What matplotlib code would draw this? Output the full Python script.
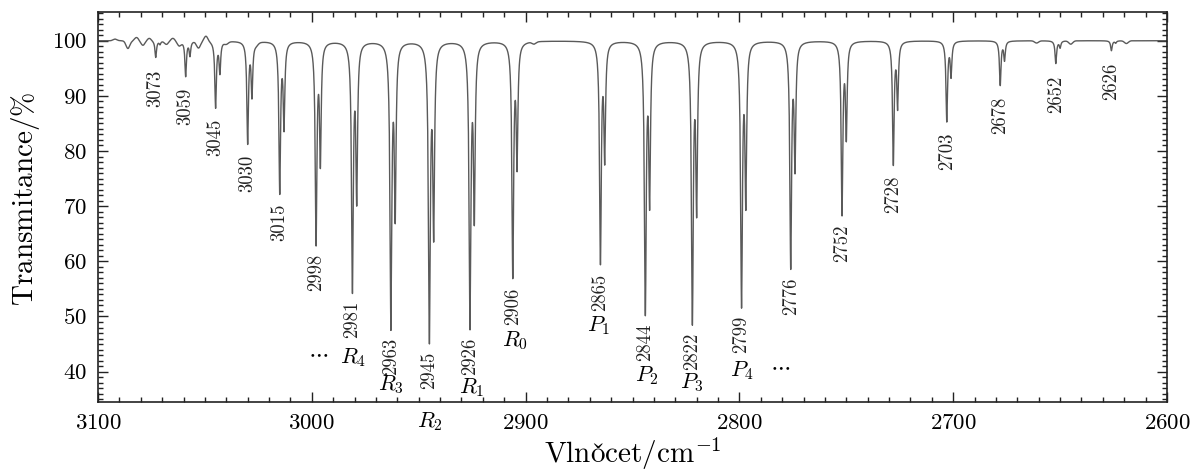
import numpy as np
import matplotlib
matplotlib.use("Agg")
import matplotlib.pyplot as plt
from matplotlib.ticker import MultipleLocator

# HCl fundamental band, rotational lines (H35Cl)
line_pos = [3073, 3059, 3045, 3030, 3015, 2998, 2981, 2963, 2945, 2926, 2906,
            2865, 2844, 2822, 2799, 2776, 2752, 2728, 2703, 2678, 2652, 2626]
main_min = [97.0, 93.6, 88.0, 81.6, 72.7, 63.5, 55.0, 48.3, 45.9, 48.4, 57.5,
            60.0, 50.9, 49.2, 52.3, 59.2, 68.8, 77.8, 85.5, 92.0, 95.9, 98.2]
# H37Cl partner lines, sitting ~2 cm-1 lower
iso_shift = 2.0
iso_min = [99.4, 97.4, 94.4, 90.3, 84.7, 78.4, 71.9, 69.0, 65.7, 68.6, 78.1,
           79.2, 71.3, 70.0, 71.2, 77.6, 83.0, 88.3, 93.8, 96.6, 98.8, 99.6]

# small baseline wiggles (position, deviation in %)
wiggle_pos = [3092, 3086, 3082, 3079, 3076, 3068, 3065, 3062, 3053, 3049.5,
              3040, 3026, 2896, 2661, 2645, 2619]
wiggle_dev = [0.3, -1.4, 0.6, -0.8, 0.5, -0.6, 0.5, -0.8, -1.2, 1.0,
              -0.4, -0.4, -0.4, -0.4, -0.6, -0.5]

branch_labels = ["R_4", "R_3", "R_2", "R_1", "R_0", "P_1", "P_2", "P_3", "P_4"]

plt.rcParams['font.family'] = 'serif'
plt.rcParams['font.serif'] = ['cmr10', 'DejaVu Serif']
plt.rcParams['mathtext.fontset'] = 'cm'
plt.rcParams['axes.formatter.use_mathtext'] = True
plt.rcParams['axes.unicode_minus'] = False


def build_spectrum(x):
    gamma = 0.42
    absorb = np.zeros_like(x)
    for c, t_main, t_iso in zip(line_pos, main_min, iso_min):
        absorb += -np.log(t_main / 100.0) * gamma**2 / ((x - c)**2 + gamma**2)
        ci = c - iso_shift
        absorb += -np.log(t_iso / 100.0) * gamma**2 / ((x - ci)**2 + gamma**2)
    t = 100.0 * np.exp(-absorb)
    for p, d in zip(wiggle_pos, wiggle_dev):
        t += d * np.exp(-0.5 * ((x - p) / 0.9)**2)
    return t


x = np.arange(2600.0, 3100.0001, 0.05)
y = build_spectrum(x)

fig = plt.figure(figsize=(11.94, 4.72), dpi=100)
ax = fig.add_axes([0.0821, 0.1483, 0.8953, 0.8263])
ax.plot(x, y, color='#5a5a5a', lw=1.0)

ax.set_xlim(3100, 2600)
ax.set_ylim(34.5, 105.2)
ax.xaxis.set_major_locator(MultipleLocator(100))
ax.xaxis.set_minor_locator(MultipleLocator(10))
ax.yaxis.set_major_locator(MultipleLocator(10))
ax.yaxis.set_minor_locator(MultipleLocator(1))
ax.tick_params(which='both', direction='in', top=True, right=True,
               labelsize=16.5, color='#222222', width=1.0)
ax.tick_params(which='major', length=7, pad=8)
ax.tick_params(which='minor', length=3.5)
for s in ax.spines.values():
    s.set_linewidth(1.2)
    s.set_color('#222222')

xl = ax.set_xlabel(r"Vlno$\mathrm{\check{c}}$et/cm$^{-1}$", fontsize=21)
xl.set_va('baseline')
ax.xaxis.set_label_coords(0.5, -0.156)
yl = ax.set_ylabel(r"Transmitance/$\mathrm{\%}$", fontsize=21)
yl.set_va('center')
ax.yaxis.set_label_coords(-0.0683, 0.52)

# wavenumber of each line, written just under its minimum
for c, t_main in zip(line_pos, main_min):
    ax.text(c, t_main - 2.2, str(c), rotation=90, ha='center', va='top',
            fontsize=13.5, color='#222222')

# branch designations
branch_xy = {
    "R_4": (2980.6, 42.6), "R_3": (2963.0, 37.7), "R_2": (2944.7, 31.0),
    "R_1": (2925.2, 37.1), "R_0": (2905.0, 45.6), "P_1": (2866.0, 48.3),
    "P_2": (2843.4, 39.2), "P_3": (2822.2, 38.0), "P_4": (2799.0, 40.1),
}
for lab in branch_labels:
    bx, by = branch_xy[lab]
    ax.text(bx, by, "$" + lab + "$", ha='center', va='center', fontsize=16,
            clip_on=False)
ax.text(2997.1, 43.4, r"$\cdots$", ha='center', va='center', fontsize=16)
ax.text(2781.0, 40.9, r"$\cdots$", ha='center', va='center', fontsize=16)

fig.savefig("out.png", dpi=100)
